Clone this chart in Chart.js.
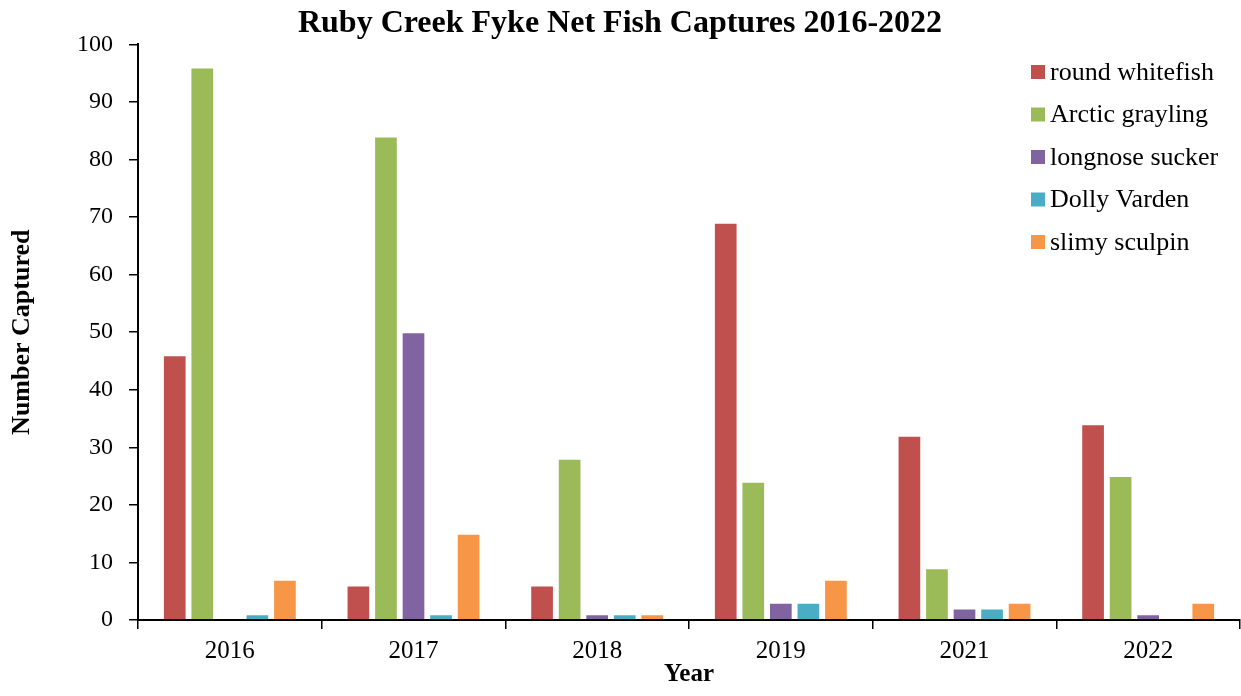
<!DOCTYPE html>
<html>
<head>
    <title>Ruby Creek Fyke Net</title>
    <script src="https://cdn.jsdelivr.net/npm/chart.js"></script>
    <style>
        body { margin: 0; background: #fff; }
        .wrap { width: 1241px; height: 696px; }
    </style>
</head>
<body>
    <div class="wrap">
        <canvas id="chart" width="1241" height="696"></canvas>
    </div>

    <script type="text/javascript">
        const years = ['2016', '2017', '2018', '2019', '2021', '2022'];
        const roundWhitefish = [46, 6, 6, 69, 32, 34];
        const arcticGrayling = [96, 84, 28, 24, 9, 25];
        const longnoseSucker = [0, 50, 1, 3, 2, 1];
        const dollyVarden = [1, 1, 1, 3, 2, 0];
        const slimySculpin = [7, 15, 1, 7, 3, 3];

        const serif = '"Liberation Serif", "Times New Roman", serif';

        function bars(label, data, color) {
            return {
                label: label,
                data: data,
                backgroundColor: color,
                borderColor: '#ffffff',
                borderWidth: 1,
                categoryPercentage: 0.75,
                barPercentage: 0.86
            };
        }

        // legend drawn inside the plot, top right
        const boxLegend = {
            id: 'boxLegend',
            afterDraw(chart) {
                const ctx = chart.ctx;
                ctx.save();
                ctx.font = '26px ' + serif;
                ctx.textBaseline = 'middle';
                chart.data.datasets.forEach((ds, i) => {
                    const y = 72 + i * 42.5;
                    ctx.fillStyle = ds.backgroundColor;
                    ctx.fillRect(1031, y - 7, 14, 14);
                    ctx.fillStyle = '#000';
                    ctx.fillText(ds.label, 1050, y + 1);
                });
                ctx.restore();
            }
        };

        const ctx = document.getElementById('chart');
        let chart = new Chart(ctx, {
            type: 'bar',
            data: {
                labels: years,
                datasets: [
                    bars('round whitefish', roundWhitefish, '#C0504D'),
                    bars('Arctic grayling', arcticGrayling, '#9BBB59'),
                    bars('longnose sucker', longnoseSucker, '#8064A2'),
                    bars('Dolly Varden', dollyVarden, '#4BACC6'),
                    bars('slimy sculpin', slimySculpin, '#F79646')
                ]
            },
            options: {
                responsive: false,
                animation: false,
                layout: { padding: { left: 0, right: 1, top: 0, bottom: 0 } },
                plugins: {
                    legend: { display: false },
                    tooltip: { enabled: false },
                    title: {
                        display: true,
                        text: 'Ruby Creek Fyke Net Fish Captures 2016-2022',
                        color: '#000',
                        font: { family: serif, size: 32, weight: 'bold', lineHeight: 1.2 },
                        padding: { top: 5, bottom: 1 }
                    }
                },
                scales: {
                    x: {
                        grid: { drawOnChartArea: false, drawTicks: true, tickLength: 9, color: '#000', lineWidth: 1.5 },
                        border: { color: '#000', width: 2 },
                        ticks: { color: '#000', font: { family: serif, size: 25 }, padding: 7 },
                        title: {
                            display: true, text: 'Year', color: '#000',
                            font: { family: serif, size: 25, weight: 'bold' },
                            padding: { top: 0, bottom: 6 }
                        },
                        afterFit(scale) { scale.height = 76; }
                    },
                    y: {
                        min: 0,
                        max: 100,
                        ticks: { stepSize: 10, color: '#000', font: { family: serif, size: 24 }, padding: 16 },
                        grid: { drawOnChartArea: false, drawTicks: true, tickLength: 9, color: '#000', lineWidth: 1.5 },
                        border: { color: '#000', width: 2 },
                        title: {
                            display: true, text: 'Number Captured', color: '#000',
                            font: { family: serif, size: 26, weight: 'bold' },
                            padding: { top: 7, bottom: 0 }
                        },
                        afterFit(scale) { scale.width = 138; }
                    }
                }
            },
            plugins: [boxLegend]
        });
    </script>
</body>
</html>
